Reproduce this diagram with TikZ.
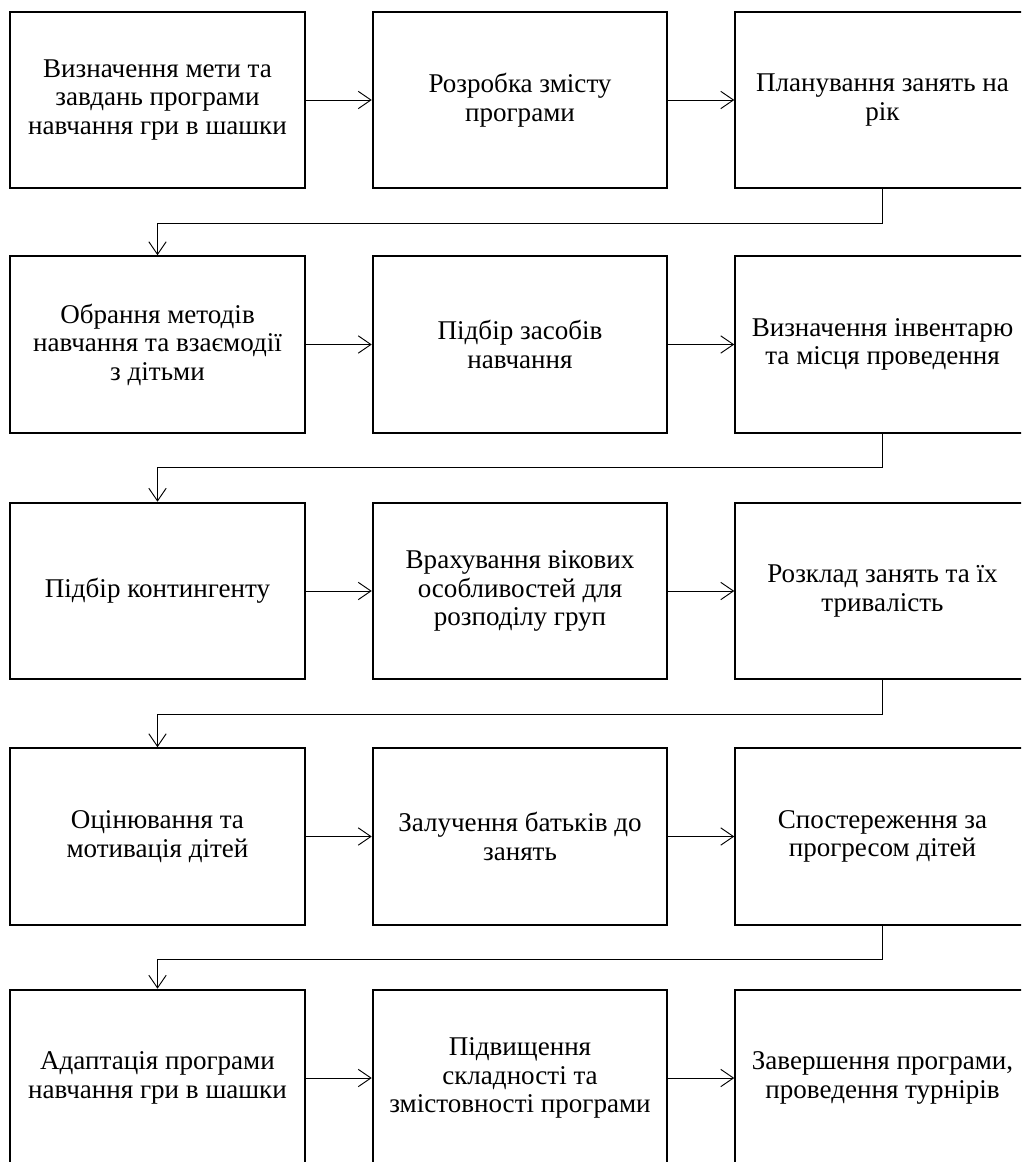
\documentclass[tikz,border=0pt]{standalone}
\usepackage{fontspec}
\setmainfont{Liberation Serif}
\usetikzlibrary{arrows.meta}

\begin{document}
\begin{tikzpicture}[x=0.75pt, y=-0.75pt,
    >={Straight Barb[length=9.5pt,width=13pt]},
    box/.style={draw, line width=1.4pt, minimum width=221pt, minimum height=132.5pt,
        align=center, font=\fontsize{20.3}{21.4}\selectfont, inner sep=2pt},
    link/.style={->, line width=0.7pt}]
    % Page frame (the right column and last row run off the page)
    \clip (0,0) rectangle (1021,1162);

    % Row 1
    \node[box] (b11) at (157.5,100) {Визначення мети та\\завдань програми\\навчання гри в шашки};
    \node[box] (b12) at (520,100) {Розробка змісту\\програми};
    \node[box] (b13) at (882.5,100) {Планування занять на\\рік};

    % Row 2
    \node[box] (b21) at (157.5,344.5) {Обрання методів\\навчання та взаємодії\\з дітьми};
    \node[box] (b22) at (520,344.5) {Підбір засобів\\навчання};
    \node[box] (b23) at (882.5,344.5) {Визначення інвентарю\\та місця проведення};

    % Row 3
    \node[box] (b31) at (157.5,591) {Підбір контингенту};
    \node[box] (b32) at (520,591) {Врахування вікових\\особливостей для\\розподілу груп};
    \node[box] (b33) at (882.5,591) {Розклад занять та їх\\тривалість};

    % Row 4
    \node[box] (b41) at (157.5,836.5) {Оцінювання та\\мотивація дітей};
    \node[box] (b42) at (520,836.5) {Залучення батьків до\\занять};
    \node[box] (b43) at (882.5,836.5) {Спостереження за\\прогресом дітей};

    % Row 5
    \node[box] (b51) at (157.5,1078) {Адаптація програми\\навчання гри в шашки};
    \node[box] (b52) at (520,1078) {Підвищення\\складності та\\змістовності програми};
    \node[box] (b53) at (882.5,1078) {Завершення програми,\\проведення турнірів};

    % Arrows within a row
    \foreach \r in {1,...,5} {
        \draw[link] (b\r1.east) -- (b\r2.west);
        \draw[link] (b\r2.east) -- (b\r3.west);
    }

    % Arrows to the next row
    \foreach \r/\n in {1/2, 2/3, 3/4, 4/5} {
        \draw[link] (b\r3.south) -- ++(0,34) -| (b\n1.north);
    }
\end{tikzpicture}
\end{document}
